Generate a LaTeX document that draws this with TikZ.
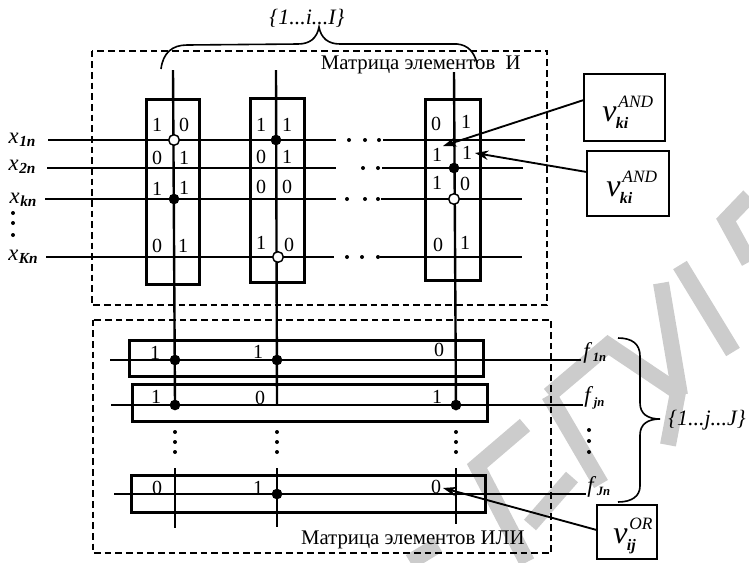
\documentclass[tikz,border=0pt]{standalone}
\usepackage{fontspec}
\setmainfont{Liberation Serif}
\usetikzlibrary{arrows.meta}
\newcommand{\varsym}[2]{\textit{\fontsize{24}{24}\selectfont v}\kern-0.5pt\rlap{\raisebox{10.5pt}{\kern2pt\fontsize{13}{13}\selectfont\textit{#2}}}\raisebox{-5pt}{\fontsize{12}{12}\selectfont\bfseries\itshape #1}}
\newcommand{\wirelbl}[3]{\textit{#1}\kern0.5pt\raisebox{-2.5pt}{\fontsize{#3}{#3}\selectfont\bfseries\itshape #2}}
\tikzset{
  wm/.style={line width=12pt, draw=black!20},
  frame/.style={draw, line width=1.2pt, dash pattern=on 5pt off 3pt},
  cellbox/.style={inner sep=0pt},
  cellline/.style={line width=2.2pt},
  hwire/.style={line width=1.25pt},
  vwire/.style={line width=1.8pt},
  bit/.style={inner sep=0pt, font=\fontsize{15}{16}\selectfont},
  onept/.style={circle, fill=black, inner sep=0pt, minimum size=8pt},
  zeropt/.style={circle, draw, fill=white, line width=1.1pt, inner sep=0pt, minimum size=8pt},
  gapdot/.style={circle, fill=black, inner sep=0pt, minimum size=3pt},
  varbox/.style={fill=white, inner sep=0pt},
  varline/.style={line width=1.4pt},
  varlbl/.style={inner sep=0pt, anchor=west},
  inlbl/.style={inner sep=0pt, font=\fontsize{17}{18}\selectfont},
  title/.style={inner sep=0pt, font=\fontsize{15.6}{17}\selectfont},
  setlbl/.style={inner sep=0pt, font=\itshape\fontsize{16.5}{18}\selectfont},
  ptr/.style={line width=1.4pt, -{Stealth[length=10pt, width=7pt]}}
}
\begin{document}
\begin{tikzpicture}[x=0.75pt, y=-0.75pt]
  \useasboundingbox (0,0) rectangle (749,562);
  % watermark
  \draw[wm] (549,395) -- (608,345) -- (678,392) -- (668,445);
  \draw[wm] (549,395) -- (601,484);
  \draw[wm] (661,283) -- (680,395);
  \draw[wm] (680,265) -- (733,352);
  \draw[wm] (749,196) -- (726,220) -- (749,262);
  \draw[wm] (525,425) -- (477,466) -- (527,562);
  \draw[wm] (572,477) -- (530,525);
  \draw[wm] (410,562) -- (438,545);

  % frames
  \node[inner sep=0pt, minimum width=341.25pt, minimum height=190.5pt] (andframe) at (319.5,178) {};
  \node[inner sep=0pt, minimum width=343.5pt, minimum height=174.75pt] (orframe) at (322,436.5) {};
  \draw[frame] (andframe.north west) rectangle (andframe.south east);
  \draw[frame] (orframe.north west) rectangle (orframe.south east);
  \node[title, anchor=east] (andtitle) at (521,65) {Матрица элементов\ \ И};
  \node[title, anchor=east] (ortitle) at (525,540) {Матрица элементов ИЛИ};

  % column and row cells
  \foreach \n/\x/\y/\w/\h in {c1/173/192/52/184, c2/277.5/190.5/53/183, c3/453/190/54/180,
      r1/306.5/358.5/353/35, r2/310/403/354/36, r3/308.5/494/353/36}
  {
    \node[cellbox, minimum width=\w*0.75pt, minimum height=\h*0.75pt] (\n) at (\x,\y) {};
    \draw[cellline] (\n.north west) rectangle (\n.south east);
  }

  % input wires
  \foreach \n/\y/\a/\b/\c/\d in {1/140/48/336/383/525, 2/168/47/336/382/523, k/199/45/336/381/522, K/257/46/334/380/522}
  {
    \coordinate (xa\n) at (\a,\y);
    \coordinate (xb\n) at (\b,\y);
    \coordinate (xc\n) at (\c,\y);
    \coordinate (xd\n) at (\d,\y);
    \draw[hwire] (xa\n) -- (xb\n);
    \draw[hwire] (xc\n) -- (xd\n);
  }
  % output wires
  \foreach \n/\y/\a/\b in {1/360/110/581, j/405/111/583, J/494/114/586}
  {
    \coordinate (fa\n) at (\a,\y);
    \coordinate (fb\n) at (\b,\y);
    \draw[hwire] (fa\n) -- (fb\n);
  }
  % column wires
  \foreach \n/\x/\xx/\a/\b/\c in {1/173/175/70/405/528, 2/276/277/70/405/527, 3/454/456/72/410/524}
  {
    \coordinate (va\n) at (\x,\a);
    \coordinate (vb\n) at (\xx,\b);
    \coordinate (vc\n) at (\xx,468);
    \coordinate (vd\n) at (\xx,\c);
    \draw[vwire] (va\n) -- (vb\n);
    \draw[vwire] (vc\n) -- (vd\n);
  }

  % gaps
  \foreach \n/\x/\y in {g1/349/140, g2/365/140, g3/379/140, g4/363/168, g5/378/168,
      g6/347/199, g7/365/199, g8/378/199, g9/347/257, g10/362/257, g11/378/257,
      g12/13/213, g13/13/223, g14/13/235, g15/175/432, g16/175/442, g17/175/452,
      g18/277/432, g19/277/442, g20/277/452, g21/456/432, g22/456/442, g23/456/452,
      g24/589/430, g25/589/441, g26/589/452}
    \node[gapdot] (\n) at (\x,\y) {};

  % bits
  \foreach \x/\y/\b in {157/125/1, 184/125/0, 157/158/0, 184/158/1, 157/189/1, 184/188/1, 157/246/0, 183/246/1,
      261/125/1, 287/125/1, 261/157/0, 287/157/1, 261/187/0, 287/187/0, 261/243/1, 289/245/0,
      436/124/0, 466/122/1, 437/155/1, 467/153/1, 437/183/1, 465/184/0, 438/245/0, 465/243/1,
      155/353/1, 258/352/1, 439/350/0, 156/397/1, 260/398/0, 437/397/1, 157/488/0, 258/488/1, 436/487/0}
    \node[bit] at (\x,\y) {\b};

  % crossings
  \foreach \n/\x/\y in {p1/276/140, p2/174/199, p3/454/168, p5/175/360, p6/277/360, p7/175/405, p8/456/405, p9/277/494}
    \node[onept] (\n) at (\x,\y) {};
  \foreach \n/\x/\y in {o1/174/140, o2/278/257, o3/454/199}
    \node[zeropt] (\n) at (\x,\y) {};

  % labels of wires
  \node[inlbl] (lx1) at (22,140) {\wirelbl{x}{1n}{11.5}};
  \node[inlbl] (lx2) at (22,167) {\wirelbl{x}{2n}{11.5}};
  \node[inlbl] (lxk) at (23,200) {\wirelbl{x}{kn}{11.5}};
  \node[inlbl] (lxK) at (23,257) {\wirelbl{x}{Kn}{11.5}};
  \node[inlbl, anchor=west] (lf1) at (583,353) {\wirelbl{f}{1n}{9.5}};
  \node[inlbl, anchor=west] (lfj) at (584,398) {\wirelbl{f}{jn}{9.5}};
  \node[inlbl, anchor=west] (lfJ) at (587,487) {\wirelbl{f}{Jn}{9.5}};

  % variable boxes
  \foreach \n/\x/\y/\w/\h in {vand1/624.5/107.5/81/67, vand2/628/183.5/82/65, vor/627/532/60/54}
  {
    \node[varbox, minimum width=\w*0.75pt, minimum height=\h*0.75pt] (\n) at (\x,\y) {};
    \draw[varline] (\n.north west) rectangle (\n.south east);
  }
  \node[varlbl] (lv1) at (602,112) {\varsym{ki}{AND}};
  \node[varlbl] (lv2) at (606,187) {\varsym{ki}{AND}};
  \node[varlbl] (lv3) at (613,536) {\varsym{ij}{OR}};
  \coordinate (t1) at (443,146);
  \coordinate (t2) at (475,153);
  \coordinate (t3) at (443,488);
  \draw[ptr] (vand1.west |- 0,100) -- (t1);
  \draw[ptr] (vand2.west |- 0,172) -- (t2);
  \draw[ptr] (vor.west |- 0,530) -- (t3);

  % braces
  \draw[line width=1.2pt] (161,69) .. controls (163,53) and (172,45) .. (187,45) -- (298,44)
    .. controls (310,44) and (317,38) .. (319,27) .. controls (321,38) and (328,44) .. (340,44)
    -- (457,44) .. controls (468,45) and (474,52) .. (477,63);
  \draw[line width=1.2pt] (618,338) .. controls (632,338) and (640,344) .. (640,356) -- (640,403)
    .. controls (640,414) and (648,419) .. (660,419) .. controls (648,419) and (640,424) .. (640,435)
    -- (640,486) .. controls (640,496) and (632,502) .. (618,502);
  \node[setlbl] (lset1) at (307,18) {\{1...i...I\}};
  \node[setlbl] (lset2) at (707,420) {\{1...j...J\}};
\end{tikzpicture}
\end{document}
